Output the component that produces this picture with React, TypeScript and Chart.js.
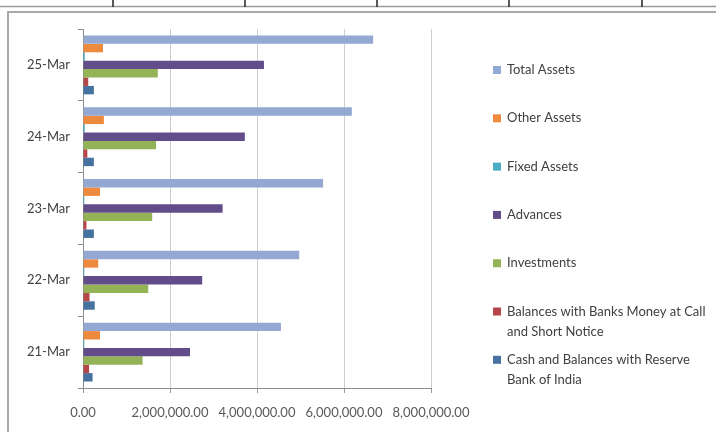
import { useEffect, useRef } from 'react';
import { Chart, registerables } from 'chart.js';

Chart.register(...registerables);

// Categories listed top to bottom as they appear in the chart
const categories = ['25-Mar', '24-Mar', '23-Mar', '22-Mar', '21-Mar'];

const totalAssets = [6670000, 6180000, 5520000, 4970000, 4550000];
const otherAssets = [460000, 480000, 390000, 350000, 390000];
const fixedAssets = [40000, 40000, 30000, 30000, 30000];
const advances = [4160000, 3720000, 3210000, 2740000, 2460000];
const investments = [1720000, 1680000, 1590000, 1500000, 1370000];
const balancesWithBanks = [120000, 100000, 80000, 150000, 140000];
const cashWithRBI = [250000, 250000, 250000, 270000, 220000];

const xTickValues = [0, 2000000, 4000000, 6000000, 8000000];

const seriesLabels: string[][] = [
  ['Total Assets'],
  ['Other Assets'],
  ['Fixed Assets'],
  ['Advances'],
  ['Investments'],
  ['Balances with Banks Money at Call', 'and Short Notice'],
  ['Cash and Balances with Reserve', 'Bank of India'],
];

const seriesValues = [
  totalAssets,
  otherAssets,
  fixedAssets,
  advances,
  investments,
  balancesWithBanks,
  cashWithRBI,
];

const seriesColors = [
  '#93A8D2',
  '#EE8A3E',
  '#4BACC6',
  '#624D8A',
  '#94B356',
  '#B5474A',
  '#45729F',
];

const FONT = 'Lato, "Open Sans", sans-serif';

const framePlugin = {
  id: 'frame',
  beforeDraw(chart: any) {
    const ctx = chart.ctx;
    ctx.save();
    ctx.fillStyle = '#ffffff';
    ctx.fillRect(0, 0, chart.width, chart.height);
    // top sheet line with cell separators
    ctx.strokeStyle = '#9a9a9a';
    ctx.lineWidth = 1.5;
    ctx.beginPath();
    ctx.moveTo(0, 6.5);
    ctx.lineTo(chart.width, 6.5);
    ctx.stroke();
    ctx.strokeStyle = '#222222';
    ctx.lineWidth = 1.5;
    [113, 245, 377, 509, 642].forEach((x) => {
      ctx.beginPath();
      ctx.moveTo(x, 0);
      ctx.lineTo(x, 7);
      ctx.stroke();
    });
    // chart frame
    ctx.strokeStyle = '#a8a8a8';
    ctx.lineWidth = 2;
    ctx.beginPath();
    ctx.moveTo(8, chart.height);
    ctx.lineTo(8, 12);
    ctx.lineTo(chart.width, 12);
    ctx.stroke();
    ctx.restore();
  },
  afterDraw(chart: any) {
    const ctx = chart.ctx;
    ctx.save();
    ctx.font = '13px ' + FONT;
    ctx.textBaseline = 'middle';
    ctx.textAlign = 'left';
    chart.data.datasets.forEach((ds: any, i: number) => {
      const y = 70 + i * 48.3;
      ctx.fillStyle = ds.backgroundColor;
      ctx.fillRect(493, y - 4, 8, 8);
      ctx.fillStyle = '#404040';
      const lines: string[] = seriesLabels[i];
      lines.forEach((line, j) => {
        ctx.fillText(line, 507, y + j * 20);
      });
    });
    ctx.restore();
  },
};

export default function App() {
  const canvasRef = useRef<HTMLCanvasElement | null>(null);

  useEffect(() => {
    if (!canvasRef.current) return;
    const chart = new Chart(canvasRef.current, {
      type: 'bar',
      data: {
        labels: categories,
        datasets: seriesValues.map((vals, i) => ({
          label: seriesLabels[i].join(' '),
          data: vals,
          backgroundColor: seriesColors[i],
          borderWidth: 0,
          categoryPercentage: 0.82,
          barPercentage: 1,
        })),
      },
      options: {
        indexAxis: 'y',
        responsive: false,
        animation: false,
        devicePixelRatio: 1,
        layout: { padding: { left: 0, top: 29, right: 285, bottom: 0 } },
        plugins: {
          legend: { display: false },
          tooltip: { enabled: false },
        },
        scales: {
          x: {
            min: 0,
            max: 8000000,
            afterBuildTicks: (scale: any) => {
              scale.ticks = xTickValues.map((v) => ({ value: v }));
            },
            afterFit: (scale: any) => {
              scale.height = 44;
              scale.paddingLeft = 0;
              scale.paddingRight = 0;
            },
            grid: {
              color: '#cfcfcf',
              lineWidth: 1,
              drawTicks: true,
              tickLength: 5,
              tickColor: '#9a9a9a',
            },
            border: { display: true, color: '#8c8c8c', width: 1 },
            ticks: {
              padding: 12,
              color: '#595959',
              font: { family: FONT, size: 13 },
              maxRotation: 0,
              autoSkip: false,
              callback: (v: any) =>
                Number(v).toLocaleString('en-US', {
                  minimumFractionDigits: 2,
                  maximumFractionDigits: 2,
                }),
            },
          },
          y: {
            afterFit: (scale: any) => {
              scale.width = 83;
              scale.paddingTop = 0;
              scale.paddingBottom = 0;
            },
            grid: {
              offset: true,
              drawOnChartArea: false,
              drawTicks: true,
              tickLength: 5,
              color: '#8c8c8c',
            },
            border: { display: true, color: '#8c8c8c', width: 1 },
            ticks: {
              padding: 8,
              color: '#404040',
              font: { family: FONT, size: 13 },
            },
          },
        },
      },
      plugins: [framePlugin],
    });
    return () => chart.destroy();
  }, []);

  return (
    <div style={{ position: 'absolute', left: 0, top: 0, width: 716, height: 432 }}>
      <canvas ref={canvasRef} width={716} height={432} style={{ display: 'block' }} />
    </div>
  );
}
